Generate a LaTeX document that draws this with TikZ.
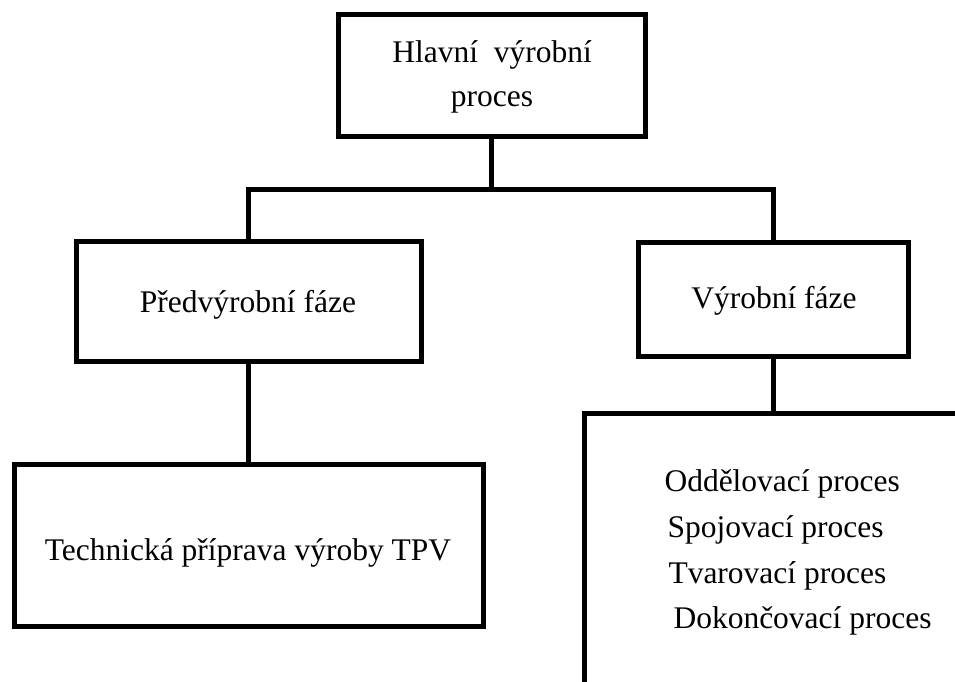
\documentclass[tikz,border=0pt]{standalone}
\usepackage{fontspec}
\setmainfont{Liberation Serif}
\begin{document}
\begin{tikzpicture}[x=1pt,y=-1pt,
  line width=5pt,
  box/.style={draw, rectangle, line width=5pt, inner sep=0pt},
  txt/.style={anchor=base, inner sep=0pt, font=\fontsize{31.5}{44}\selectfont},
  ltxt/.style={anchor=base west, inner sep=0pt, font=\fontsize{31.5}{44}\selectfont}]
\useasboundingbox (0,0) rectangle (955,682);
% boxes
\node[box, minimum width=307pt, minimum height=121pt] (top) at (491.5,75.5) {};
\node[box, minimum width=345pt, minimum height=120pt] (pre) at (248.5,301) {};
\node[box, minimum width=270pt, minimum height=114pt] (vyr) at (773,299) {};
\node[box, minimum width=469pt, minimum height=162pt] (tpv) at (248.5,545) {};
% texts
\node[txt] (t1) at (492,63) {Hlavní\ \ výrobní};
\node[txt] (t2) at (492,107) {proces};
\node[txt] (tpre) at (248,312) {Předvýrobní fáze};
\node[txt] (tvyr) at (774,308) {Výrobní fáze};
\node[txt] (ttpv) at (248,560) {Technická příprava výroby TPV};
\node[ltxt] (l1) at (662,491) {Oddělovací proces};
\node[ltxt] (l2) at (665,537) {Spojovací proces};
\node[ltxt] (l3) at (666,583) {Tvarovací proces};
\node[ltxt] (l4) at (671,628) {Dokončovací proces};
% connectors
\coordinate (j1) at (491.5,189.5);
\draw (top.south) -- (j1);
\draw (pre.north) |- (j1) -| (vyr.north);
\draw (pre.south) -- (tpv.north);
\coordinate (j2) at (773,413);
\draw (vyr.south) -- (j2);
\coordinate (openbot) at (584,686);
\coordinate (openright) at (960,413);
\draw (openbot) |- (openright);
\end{tikzpicture}
\end{document}
